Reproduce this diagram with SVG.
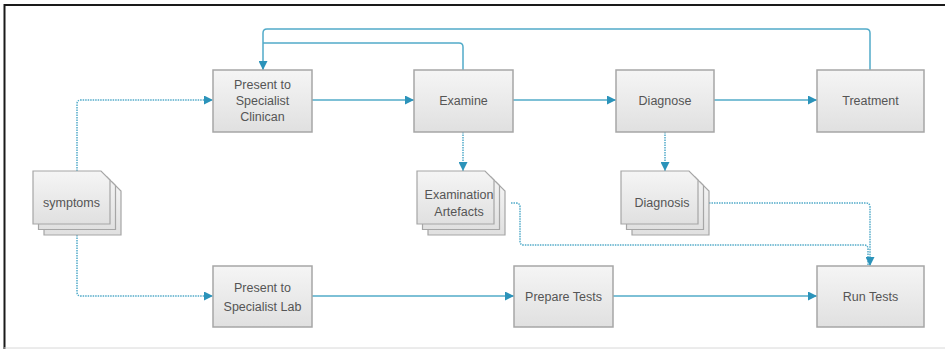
<svg xmlns="http://www.w3.org/2000/svg" width="945" height="349" viewBox="0 0 945 349">
  <style>
    .box { fill: url(#boxFill); stroke: #a6a6a6; stroke-width: 1.5; }
    .sheet { fill: url(#boxFill); stroke: #a6a6a6; stroke-width: 1.2; }
    .lbl { font-family: "Liberation Sans", Arial, sans-serif; font-size: 12.5px; fill: #555; text-anchor: middle; }
    .flow { fill: none; stroke: #52abc9; stroke-width: 1.5; }
    .data { fill: none; stroke: #52abc9; stroke-width: 1.5; stroke-dasharray: 1.5 1; }
  </style>
  <defs>
    <linearGradient id="boxFill" x1="0" y1="0" x2="0" y2="1">
      <stop offset="0" stop-color="#f5f5f5"/>
      <stop offset="1" stop-color="#e0e0e0"/>
    </linearGradient>
    <marker id="arrow" viewBox="0 0 10 10" refX="10" refY="5" markerWidth="6" markerHeight="6" orient="auto" markerUnits="strokeWidth">
      <path d="M0,0 L10,5 L0,10 z" fill="#2b93ba"/>
    </marker>
    <!-- one document sheet with folded corner, 77 x 53 -->
    <path id="sheet" d="M0,0 H68 L77,9 V53 H0 Z"/>
  </defs>

  <rect width="945" height="349" fill="#ffffff"/>
  <!-- frame -->
  <path d="M4.5,349 V5 H945" fill="none" stroke="#1a1a1a" stroke-width="2"/>
  <line x1="4" y1="348" x2="945" y2="348" stroke="#d8d8d8" stroke-width="1"/>

  <g id="connectors">
    <!-- symptoms to the two entry steps -->
    <path class="data" d="M77,171 V104 Q77,100 81,100 H213" marker-end="url(#arrow)"/>
    <path class="data" d="M77,235 V292 Q77,296 81,296 H213" marker-end="url(#arrow)"/>
    <!-- main clinical flow -->
    <path class="flow" d="M312,100 H414" marker-end="url(#arrow)"/>
    <path class="flow" d="M513,100 H616" marker-end="url(#arrow)"/>
    <path class="flow" d="M714,100 H817" marker-end="url(#arrow)"/>
    <!-- feedback loops to the clinician -->
    <path class="flow" d="M870,70 V33 Q870,29 866,29 H267 Q263,29 263,33 V70" marker-end="url(#arrow)"/>
    <path class="flow" d="M463,70 V47 Q463,43 459,43 H263"/>
    <!-- produced artefacts -->
    <path class="data" d="M463,132 V171" marker-end="url(#arrow)"/>
    <path class="data" d="M665,132 V171" marker-end="url(#arrow)"/>
    <!-- artefacts feeding the test run -->
    <path class="data" d="M511,203 H516 Q520,203 520,207 V241 Q520,245 524,245 H864 Q868,245 868,249 V266"/>
    <path class="data" d="M709,203 H866 Q870,203 870,207 V266" marker-end="url(#arrow)"/>
    <!-- lab flow -->
    <path class="flow" d="M312,296 H514" marker-end="url(#arrow)"/>
    <path class="flow" d="M613,296 H817" marker-end="url(#arrow)"/>
  </g>

  <g id="clinician">
    <rect class="box" x="213" y="70" width="99" height="62"/>
    <text class="lbl" x="262.5" y="89">Present to</text>
    <text class="lbl" x="262.5" y="105">Specialist</text>
    <text class="lbl" x="262.5" y="121">Clinican</text>
  </g>
  <g id="examine">
    <rect class="box" x="414" y="70" width="99" height="62"/>
    <text class="lbl" x="463.5" y="105">Examine</text>
  </g>
  <g id="diagnose">
    <rect class="box" x="616" y="70" width="98" height="62"/>
    <text class="lbl" x="665" y="105">Diagnose</text>
  </g>
  <g id="treatment">
    <rect class="box" x="817" y="70" width="107" height="62"/>
    <text class="lbl" x="870.5" y="105">Treatment</text>
  </g>

  <g id="symptoms">
    <use href="#sheet" class="sheet" x="44" y="182"/>
    <use href="#sheet" class="sheet" x="38.5" y="176.5"/>
    <use href="#sheet" class="sheet" x="33" y="171"/>
    <text class="lbl" x="71.5" y="207">symptoms</text>
  </g>
  <g id="examination-artefacts">
    <use href="#sheet" class="sheet" x="428" y="182"/>
    <use href="#sheet" class="sheet" x="422.5" y="176.5"/>
    <use href="#sheet" class="sheet" x="417" y="171"/>
    <text class="lbl" x="459" y="199">Examination</text>
    <text class="lbl" x="459" y="216">Artefacts</text>
  </g>
  <g id="diagnosis">
    <use href="#sheet" class="sheet" x="632" y="182"/>
    <use href="#sheet" class="sheet" x="626.5" y="176.5"/>
    <use href="#sheet" class="sheet" x="621" y="171"/>
    <text class="lbl" x="662" y="207">Diagnosis</text>
  </g>

  <g id="lab">
    <rect class="box" x="213" y="266" width="99" height="61"/>
    <text class="lbl" x="262.5" y="292">Present to</text>
    <text class="lbl" x="262.5" y="311">Specialist Lab</text>
  </g>
  <g id="prepare-tests">
    <rect class="box" x="514" y="266" width="99" height="61"/>
    <text class="lbl" x="563.5" y="301">Prepare Tests</text>
  </g>
  <g id="run-tests">
    <rect class="box" x="817" y="266" width="107" height="61"/>
    <text class="lbl" x="870.5" y="301">Run Tests</text>
  </g>
</svg>
